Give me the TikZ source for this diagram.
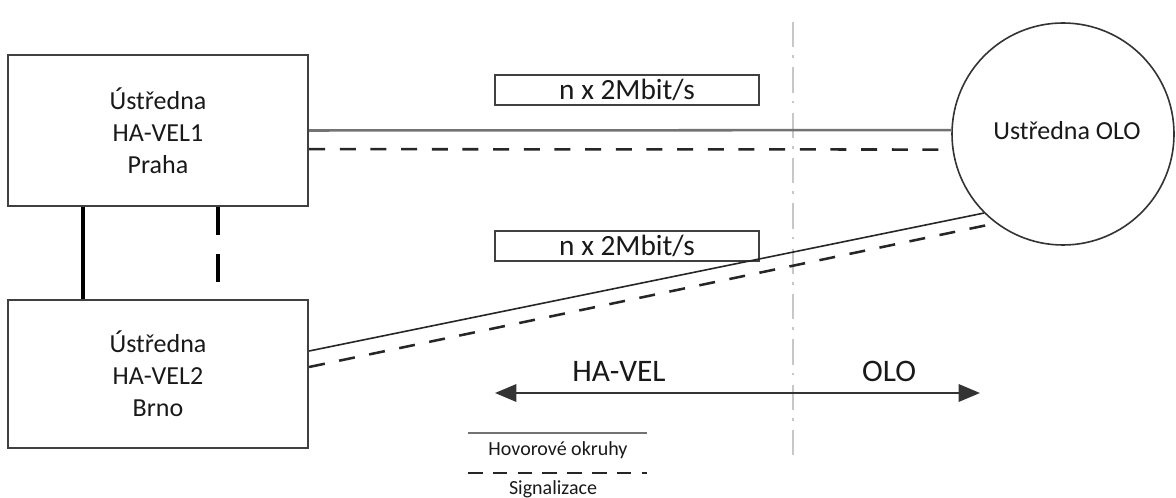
\documentclass[tikz,border=0pt]{standalone}
\usepackage{fontspec}
\setmainfont{Carlito}
\usetikzlibrary{arrows.meta}
\begin{document}
\begin{tikzpicture}[x=0.75pt,y=-0.75pt,
  every node/.style={text=black!90},
  station/.style={draw=black!75, line width=1.7pt, minimum width=225pt, align=center, inner sep=0pt,
    font=\fontsize{19.5}{24}\selectfont},
  ratebox/.style={draw=black!75, line width=1.4pt, minimum width=198pt, minimum height=23pt, inner sep=0pt,
    font=\fontsize{22}{24}\selectfont},
  olostyle/.style={draw=black!80, line width=1.2pt, circle, minimum size=166.5pt, inner sep=0pt,
    font=\fontsize{19.5}{24}\selectfont},
  voice/.style={draw=black!55, line width=1.9pt},
  voicethin/.style={draw=black!85, line width=1.2pt},
  sig/.style={draw=black!85, line width=1.9pt, dash pattern=on 12pt off 11pt},
  sigleg/.style={draw=black!85, line width=1.9pt, dash pattern=on 11pt off 7.6pt},
  sigvert/.style={draw=black, line width=2.4pt, dash pattern=on 21pt off 14.25pt},
  link/.style={draw=black, line width=2.4pt},
  border/.style={draw=black!22, line width=1.2pt, dash pattern=on 19pt off 6pt on 2pt off 7pt},
  span/.style={draw=black!80, line width=1.7pt, {Triangle[length=16pt,width=13pt]}-{Triangle[length=16pt,width=13pt]}},
  side/.style={font=\fontsize{23.5}{26}\selectfont},
  legtext/.style={font=\fontsize{15}{18}\selectfont}
]
\useasboundingbox (0,0) rectangle (1176,498);

% nodes
\node[station, minimum height=113.25pt] (praha) at (158,130.5) {Ústředna\\HA-VEL1\\Praha};
\node[station, minimum height=111pt] (brno) at (158,374) {Ústředna\\HA-VEL2\\Brno};
\node[olostyle] (olo) at (1063,134) {};
\node[font=\fontsize{19.5}{24}\selectfont] (olotext) at (1067,131) {Ustředna OLO};
\node[ratebox] (rate1) at (627,90) {n x 2Mbit/s};
\node[ratebox] (rate2) at (627,246) {n x 2Mbit/s};

% border line
\coordinate (bTop) at (793,22);
\coordinate (bBot) at (793,460);
\draw[border] (bTop) -- (bBot);

% Praha - OLO
\draw[voice] (praha.east) -- (olo.178);
\draw[sig] ([yshift=-14pt]praha.east) -- (olo.188);

% Brno - OLO
\draw[voicethin] ([yshift=17.25pt]brno.east) -- (olo.225);
\draw[sig] ([yshift=5.25pt]brno.east) -- (olo.233);

% Praha - Brno
\draw[link] ([xshift=-56.25pt]praha.south) -- ([xshift=-56.25pt]brno.north);
\draw[sigvert] ([xshift=45pt]praha.south) -- ([xshift=45pt]brno.north);

% span arrow
\coordinate (arrL) at (495,393);
\coordinate (arrR) at (980,393);
\draw[span] (arrL) -- (arrR);
\node[side] (havel) at (619,371) {HA-VEL};
\node[side] (olosd) at (889,371) {OLO};

% legend
\coordinate (legA) at (468,433);
\coordinate (legB) at (647,433);
\coordinate (legC) at (468,473);
\coordinate (legD) at (647,473);
\draw[voice] (legA) -- (legB);
\draw[sigleg] (legC) -- (legD);
\node[legtext] (hovor) at (558,450) {Hovorové okruhy};
\node[legtext] (signal) at (553,489) {Signalizace};
\end{tikzpicture}
\end{document}
